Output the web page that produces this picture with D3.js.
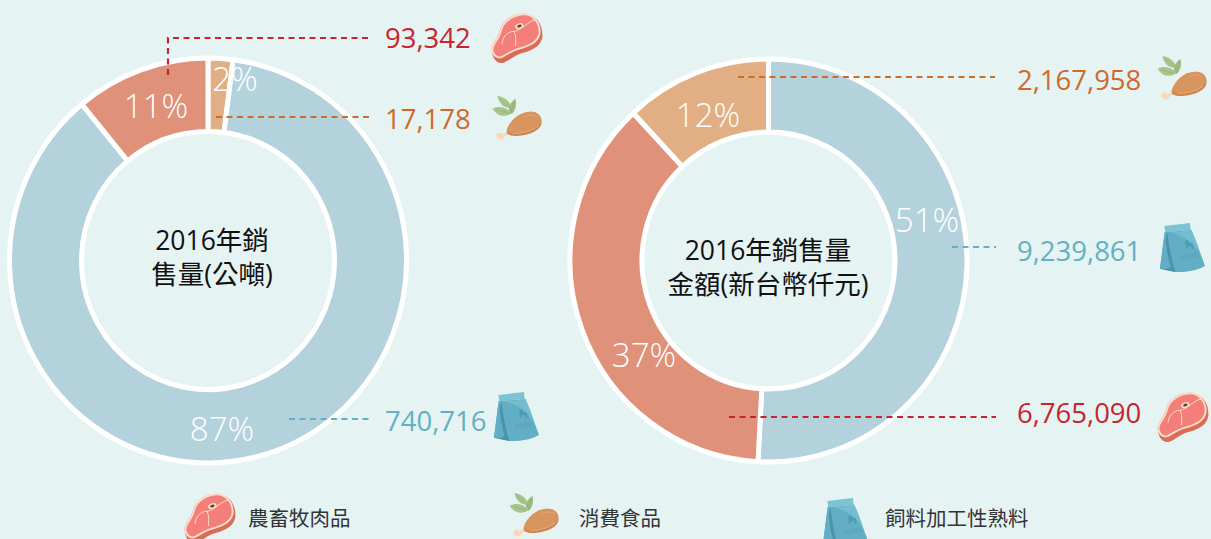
<!DOCTYPE html>
<html><head><meta charset="utf-8">
<script src="https://cdn.jsdelivr.net/npm/d3@7"></script>
<style>
html,body{margin:0;padding:0;background:#e5f4f3;overflow:hidden}
svg{display:block}
text{font-family:"Open Sans","Noto Sans CJK TC",sans-serif}
</style></head><body><svg id="c" width="1211" height="539"></svg>
<script>
// data
const categories = ["農畜牧肉品","消費食品","飼料加工性熟料"];
const iconKeys = ["meat","chicken","bag"];
const volumeOrder = ["消費食品","飼料加工性熟料","農畜牧肉品"];
const volumeValues = [17178,740716,93342];
const volumePercents = ["2%","87%","11%"];
const valueOrder = ["飼料加工性熟料","農畜牧肉品","消費食品"];
const valueValues = [9239861,6765090,2167958];
const valuePercents = ["51%","37%","12%"];
const volumeTitle = ["2016年銷","售量(公噸)"];
const valueTitle = ["2016年銷售量","金額(新台幣仟元)"];

const colors = {"農畜牧肉品":"#e0917a","消費食品":"#e2af84","飼料加工性熟料":"#b3d2dc"};
const textColors = {"農畜牧肉品":"#c8242f","消費食品":"#cf6a2c","飼料加工性熟料":"#63afc4"};

const svg = d3.select("#c");
const fmt = d3.format(",");
const W=svg.append("g");

function meat(g){
  g.append("path").attr("fill","#d96c55").attr("d","M65,150C63,132 84,116 92,85C100,58 132,40 165,41C200,44 220,76 217,110C214,136 190,150 160,158C130,166 122,180 100,188C80,193 67,175 65,150Z");
  g.append("path").attr("fill","#fbdcc9").attr("d","M64,150C63,132 84,116 92,85C100,58 132,40 165,40C195,42 214,70 212,100C208,124 186,138 156,146C126,154 114,164 95,175C78,178 66,166 64,150Z");
  g.append("path").attr("fill","#f47f7a").attr("d","M70,150C70,134 90,118 97,88C105,64 134,46 165,46C190,48 208,72 206,98C203,120 182,133 154,141C126,149 112,158 94,169C81,171 72,162 70,150Z");
  g.append("path").attr("fill","none").attr("stroke","#fbdcc9").attr("stroke-width",3).attr("d","M96,132C97,112 112,94 132,94C150,94 176,62 196,60M132,94C140,108 136,128 137,138");
  g.append("ellipse").attr("cx",148).attr("cy",78).attr("rx",13).attr("ry",8).attr("fill","#fbdcc9").attr("transform","rotate(-20 148 78)");
  g.append("ellipse").attr("cx",148).attr("cy",78).attr("rx",7).attr("ry",4).attr("fill","#5b4038").attr("transform","rotate(-20 148 78)");
}
function chicken(g){
  g.append("path").attr("fill","#a8c48c").attr("d","M82,288C100,290 118,300 124,322C110,326 90,320 82,288Z");
  g.append("path").attr("fill","#9dbb80").attr("d","M136,296C142,316 134,336 124,342C108,328 122,306 136,296Z");
  g.append("path").attr("fill","#a8c48c").attr("d","M68,326C86,316 114,322 124,340C104,354 80,348 68,326Z");
  g.append("path").attr("fill","none").attr("stroke","#86a76a").attr("stroke-width",1.2).attr("d","M88,294L122,326M78,328L118,340M132,304L124,336");
  g.append("path").attr("fill","#f9d7b8").attr("d","M80,404C84,396 94,398 98,402L120,394L122,402L104,408C104,416 92,422 84,416C84,412 76,410 80,404Z");
  g.append("path").attr("fill","#c98452").attr("d","M110,392C118,362 150,334 184,335C206,336 218,352 214,372C208,396 166,408 136,408C120,408 108,402 110,392Z");
  g.append("path").attr("fill","#d8955d").attr("d","M112,388C120,360 150,335 184,335C206,336 216,352 212,368C204,390 164,400 136,402C122,402 110,398 112,388Z");
  g.append("path").attr("fill","none").attr("stroke","#e8b283").attr("stroke-width",2).attr("d","M162,352C172,344 190,342 200,350M130,402C156,400 186,392 204,378");
}
function bag(g){
  g.append("path").attr("fill","#62aec4").attr("d","M104,96L90,206L135,216C170,218 205,210 225,198C212,160 196,122 184,90Z");
  g.append("path").attr("fill","#74bdd0").attr("d","M180,88C160,100 140,92 120,96C160,104 198,136 212,164C204,136 194,110 184,90Z");
  g.append("path").attr("fill","#4a93a8").attr("d","M112,96L90,206L136,216C124,176 116,136 112,96Z");
  g.append("path").attr("fill","#62aec4").attr("d","M104,96C108,130 112,170 122,200L110,207L90,206Z");
  g.append("path").attr("fill","#7cc3d3").attr("d","M103,78L180,69L182,90L106,97Z");
  g.append("path").attr("fill","#4f9bb1").attr("d","M166,122L172,120L178,128L188,130L192,146L186,146L182,138L174,138L172,146L168,146Z");
  g.append("text").attr("x",180).attr("y",176).attr("text-anchor","middle").attr("font-size",19).attr("fill","#4f9bb1").attr("transform","rotate(-12 180 176)").text("FOOD");
}
const iconFns = {meat,chicken,bag};
function icon(key,ox,oy){
  const g=svg.append("g").attr("transform",`translate(${ox},${oy}) scale(${1/3})`);
  iconFns[key](g);
}

function donut(cfg){
  const pie=d3.pie().sort(null).startAngle(0).endAngle(2*Math.PI);
  const arc=d3.arc().innerRadius(cfg.ri).outerRadius(cfg.ro);
  const g=svg.append("g").attr("transform",`translate(${cfg.cx},${cfg.cy}) scale(1,${cfg.sy})`);
  g.selectAll("path").data(pie(cfg.values)).join("path")
    .attr("d",arc).attr("fill",(d,i)=>colors[cfg.order[i]])
    .attr("stroke","#fff").attr("stroke-width",5).attr("stroke-linejoin","miter");
  cfg.percents.forEach((p,i)=>{
    const c=cfg.pctPos[i];
    svg.append("text").attr("x",c[0]).attr("y",c[1]).attr("text-anchor","middle").attr("dominant-baseline","central")
      .attr("font-size",33).attr("font-weight",300).attr("fill","#fff").text(p);
  });
  cfg.order.forEach((name,i)=>{
    const c=cfg.leaders[i], col=textColors[name];
    svg.append("path").attr("fill","none").attr("stroke",col).attr("stroke-width",2.2).attr("stroke-dasharray","6 4.5")
      .attr("d",d3.line()(c.line));
    svg.append("text").attr("x",c.tx).attr("y",c.ty).attr("text-anchor","start").attr("font-size",27.5).attr("font-weight",400)
      .attr("fill",col).text(fmt(cfg.values[i]));
    icon(iconKeys[categories.indexOf(name)],c.icon[0],c.icon[1]);
  });
  cfg.title.forEach((t,i)=>{
    svg.append("text").attr("x",cfg.titleX).attr("y",cfg.titleY+i*34).attr("text-anchor","middle")
      .attr("font-size",26.5).attr("fill","#111").text(t);
  });
}

donut({cx:208,cy:260.5,ro:198.5,ri:126.5,sy:1.02,order:volumeOrder,values:volumeValues,percents:volumePercents,
  pctPos:[[235,78],[222,428],[156,105]],title:volumeTitle,titleX:212,titleY:250,
  leaders:[
   {line:[[216,117],[370,117]],tx:385,ty:129,icon:[470,0]},
   {line:[[289,419],[370,419]],tx:385,ty:431,icon:[464,369]},
   {line:[[168,75],[168,38],[370,38]],tx:385,ty:48,icon:[470,0]}
  ]});
donut({cx:768.5,cy:260.5,ro:198.5,ri:126.5,sy:1.015,order:valueOrder,values:valueValues,percents:valuePercents,
  pctPos:[[927,219],[644,354],[708,114]],title:valueTitle,titleX:768,titleY:260,
  leaders:[
   {line:[[952,247],[996,247]],tx:1017,ty:261,icon:[1130,200]},
   {line:[[729,417],[996,417]],tx:1017,ty:423,icon:[1136,379]},
   {line:[[738,77],[995,77]],tx:1017,ty:90,icon:[1135,-40]}
  ]});

const legendIcons=[[163,480],[487,397],[793,475]], legendX=[248,579,885];
categories.forEach((c,i)=>{
  icon(iconKeys[i],legendIcons[i][0],legendIcons[i][1]);
  svg.append("text").attr("x",legendX[i]).attr("y",526).attr("font-size",20.5).attr("fill","#333").text(c);
});
</script></body></html>
